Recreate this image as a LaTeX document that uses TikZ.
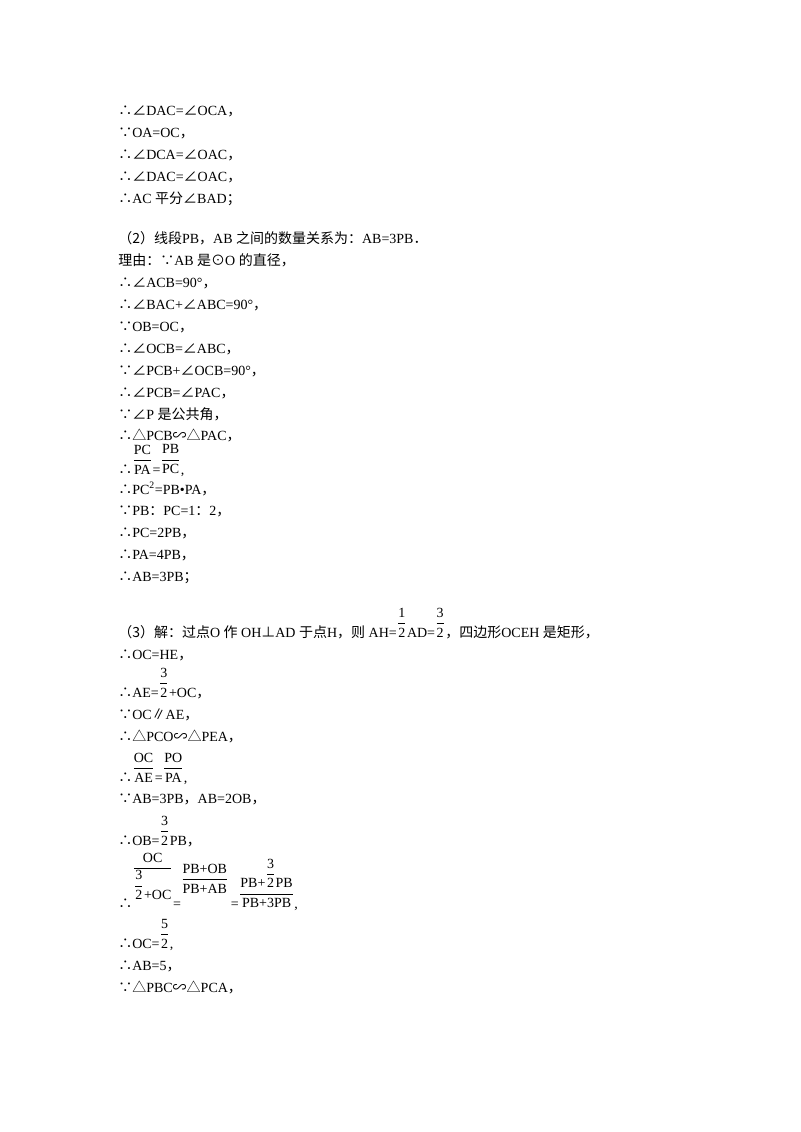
\documentclass[tikz,border=0pt]{standalone}
\usepackage{fontspec}
\usepackage{amsmath}
\setmainfont{Liberation Serif}
\newfontfamily\cjk{Noto Sans CJK SC}
\newcommand{\C}[1]{{\cjk #1}}
\newsavebox{\frbox}
\newcommand{\fr}[3][0pt]{\sbox{\frbox}{$\dfrac{\text{#2}}{\text{#3}}$}\raisebox{\dimexpr\dp\frbox+#1\relax}{\usebox{\frbox}}}
\begin{document}
\begin{tikzpicture}[x=0.75pt,y=-0.75pt,
  ln/.style={anchor=base west,inner sep=0pt,font=\fontsize{10.5}{12}\selectfont}]
\useasboundingbox (0,0) rectangle (800,1132);
\node[ln] (l1) at (118,115) {\C{∴∠}DAC=\C{∠}OCA\C{，}};
\node[ln] (l2) at (118,137) {\C{∵}OA=OC\C{，}};
\node[ln] (l3) at (118,159) {\C{∴∠}DCA=\C{∠}OAC\C{，}};
\node[ln] (l4) at (118,181) {\C{∴∠}DAC=\C{∠}OAC\C{，}};
\node[ln] (l5) at (118,203) {\C{∴}AC \C{平分∠}BAD\C{；}};
\node[ln] (l6) at (118,243) {\C{（2）线段}PB\C{，}AB \C{之间的数量关系为：}AB=3PB\C{．}};
\node[ln] (l7) at (118,265) {\C{理由：∵}AB \C{是⊙}O \C{的直径，}};
\node[ln] (l8) at (118,287) {\C{∴∠}ACB=90°\C{，}};
\node[ln] (l9) at (118,309) {\C{∴∠}BAC+\C{∠}ABC=90°\C{，}};
\node[ln] (l10) at (118,331) {\C{∵}OB=OC\C{，}};
\node[ln] (l11) at (118,353) {\C{∴∠}OCB=\C{∠}ABC\C{，}};
\node[ln] (l12) at (118,375) {\C{∵∠}PCB+\C{∠}OCB=90°\C{，}};
\node[ln] (l13) at (118,397) {\C{∴∠}PCB=\C{∠}PAC\C{，}};
\node[ln] (l14) at (118,419) {\C{∵∠}P \C{是公共角，}};
\node[ln] (l15) at (118,440) {\C{∴△}PCB\C{∽△}PAC\C{，}};
\node[ln] (l16) at (118,474) {\C{∴}\fr{PC}{PA}=\fr{PB}{PC},};
\node[ln] (l17) at (118,494) {\C{∴}PC\textsuperscript{2}=PB\textbullet PA\C{，}};
\node[ln] (l18) at (118,515) {\C{∵}PB\C{：}PC=1\C{：}2\C{，}};
\node[ln] (l19) at (118,537) {\C{∴}PC=2PB\C{，}};
\node[ln] (l20) at (118,559) {\C{∴}PA=4PB\C{，}};
\node[ln] (l21) at (118,581) {\C{∴}AB=3PB\C{；}};
\node[ln] (l22) at (118,637) {\C{（3）解：过点}O \C{作} OH\C{⊥}AD \C{于点}H\C{，则} AH=\fr{1}{2}AD=\fr{3}{2}\C{，四边形}OCEH \C{是矩形，}};
\node[ln] (l23) at (118,659) {\C{∴}OC=HE\C{，}};
\node[ln] (l24) at (118,697) {\C{∴}AE=\fr{3}{2}+OC\C{，}};
\node[ln] (l25) at (118,719) {\C{∵}OC\C{∥}AE\C{，}};
\node[ln] (l26) at (118,741) {\C{∴△}PCO\C{∽△}PEA\C{，}};
\node[ln] (l27) at (118,782) {\C{∴}\fr{OC}{AE}=\fr{PO}{PA},};
\node[ln] (l28) at (118,803) {\C{∵}AB=3PB\C{，}AB=2OB\C{，}};
\node[ln] (l29) at (118,845) {\C{∴}OB=\fr{3}{2}PB\C{，}};
\node[ln] (l30) at (118,908) {\C{∴}\fr[6pt]{OC}{\fr{3}{2}+OC}=\fr[11pt]{PB+OB}{PB+AB}\,=\fr{PB+\fr{3}{2}PB}{PB+3PB},};
\node[ln] (l31) at (118,948) {\C{∴}OC=\fr{5}{2},};
\node[ln] (l32) at (118,970) {\C{∴}AB=5\C{，}};
\node[ln] (l33) at (118,992) {\C{∵△}PBC\C{∽△}PCA\C{，}};
\end{tikzpicture}
\end{document}
